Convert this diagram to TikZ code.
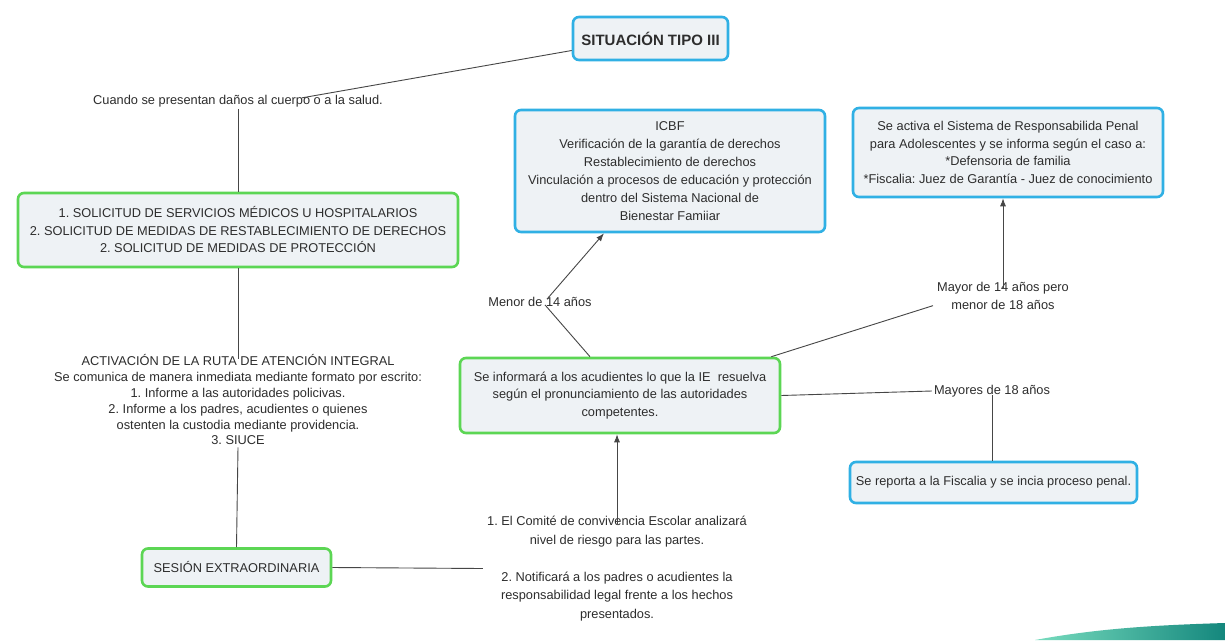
\documentclass[tikz,border=0pt]{standalone}
\usepackage{fontspec}
\setmainfont{Liberation Sans}
\usetikzlibrary{arrows.meta,calc}
\definecolor{bxblue}{RGB}{48,176,228}
\definecolor{bxgreen}{RGB}{92,214,84}
\definecolor{bxfill}{RGB}{238,242,245}
\definecolor{txt}{RGB}{45,45,45}
\definecolor{ln}{RGB}{70,70,70}
\frenchspacing
\begin{document}
\begin{tikzpicture}[x=1pt,y=-1pt,
  every node/.style={text=txt,font=\fontsize{12.8}{17.5}\selectfont\frenchspacing,inner sep=0pt,align=center},
  bluebox/.style={draw=bxblue,line width=2.6pt,fill=bxfill,rounded corners=6pt},
  greenbox/.style={draw=bxgreen,line width=2.6pt,fill=bxfill,rounded corners=6pt},
  plain/.style={},
  conn/.style={draw=ln,line width=0.9pt},
  arr/.style={conn,-{Latex[length=8pt,width=6pt]}}]
\useasboundingbox (0,0) rectangle (1225,640);
\fill[white] (0,0) rectangle (1225,640);
% teal swoosh
\shade[left color={rgb,255:red,120;green,220;blue,190},right color={rgb,255:red,20;green,135;blue,125}]
  (1035,640) .. controls (1100,628) and (1160,625) .. (1225,623) -- (1225,640) -- cycle;

\node[bluebox,minimum width=155pt,minimum height=43pt,font=\fontsize{15}{17}\selectfont\bfseries] (top) at (650.5,38.5) {SITUACIÓN TIPO III};
\node[plain] (cuando) at (238,101) {Cuando se presentan daños al cuerpo o a la salud.};
\node[greenbox,minimum width=440pt,minimum height=74pt] (sol) at (238,230)
  {1. SOLICITUD DE SERVICIOS MÉDICOS U HOSPITALARIOS\\2. SOLICITUD DE MEDIDAS DE RESTABLECIMIENTO DE DERECHOS\\2. SOLICITUD DE MEDIDAS DE PROTECCIÓN};
\node[plain,font=\fontsize{12.8}{15.8}\selectfont\frenchspacing] (activ) at (238,400)
  {ACTIVACIÓN DE LA RUTA DE ATENCIÓN INTEGRAL\\Se comunica de manera inmediata mediante formato por escrito:\\1. Informe a las autoridades policivas.\\2. Informe a los padres, acudientes o quienes\\ostenten la custodia mediante providencia.\\3. SIUCE};
\node[greenbox,minimum width=189pt,minimum height=38pt] (ses) at (236.5,567.5) {SESIÓN EXTRAORDINARIA};
\node[plain,font=\fontsize{12.8}{18.5}\selectfont\frenchspacing] (comite) at (617,568.5)
  {1. El Comité de convivencia Escolar analizará\\nivel de riesgo para las partes.\\[18.5pt]2. Notificará a los padres o acudientes la\\responsabilidad legal frente a los hechos\\presentados.};
\node[greenbox,minimum width=320pt,minimum height=75pt] (cen) at (620,395.5)
  {Se informará a los acudientes lo que la IE\ \ resuelva\\según el pronunciamiento de las autoridades\\competentes.};
\node[bluebox,minimum width=310pt,minimum height=122pt,font=\fontsize{12.8}{18}\selectfont\frenchspacing] (icbf) at (670,171)
  {ICBF\\Verificación de la garantía de derechos\\Restablecimiento de derechos\\Vinculación a procesos de educación y protección\\dentro del Sistema Nacional de\\Bienestar Famiiar};
\node[bluebox,minimum width=310pt,minimum height=89pt] (srpa) at (1008,152.5)
  {Se activa el Sistema de Responsabilida Penal\\para Adolescentes y se informa según el caso a:\\*Defensoria de familia\\*Fiscalia: Juez de Garantía - Juez de conocimiento};
\node[bluebox,minimum width=287pt,minimum height=41pt] (fis) at (993.5,482.5) {Se reporta a la Fiscalia y se incia proceso penal.};
\node[plain] (menor) at (540,302) {Menor de 14 años};
\node[plain] (may14) at (1003,296) {Mayor de 14 años pero\\menor de 18 años};
\node[plain] (may18) at (992,391) {Mayores de 18 años};

\draw[conn] ([yshift=-12pt]top.west) -- ([xshift=64pt,yshift=-3pt]cuando.north);
\draw[conn] ([yshift=-2pt]cuando.south) -- (sol.north);
\draw[conn] (sol.south) -- ([yshift=-4pt]activ.north);
\draw[conn] ([yshift=-2pt]activ.south) -- (ses.north);
\draw[conn] (ses.east) -- ([xshift=-4pt]comite.west);
\draw[arr] ([yshift=-8pt]comite.north) -- (comite.north |- cen.south);
\draw[conn] ([xshift=-30pt]cen.north) -- ([xshift=5pt,yshift=2pt]menor.south);
\draw[arr] ([xshift=7pt,yshift=-2pt]menor.north) -- ([xshift=-66pt]icbf.south);
\draw[conn] ([xshift=-10pt]cen.north east) -- ([xshift=-4pt,yshift=4pt]may14.south west);
\draw[arr] ([yshift=-6pt]may14.north) -- (may14.north |- srpa.south);
\draw[conn] (cen.east) -- ([xshift=-2pt]may18.west);
\draw[conn] ([yshift=2pt]may18.south) -- (may18.south |- fis.north);
\end{tikzpicture}
\end{document}
